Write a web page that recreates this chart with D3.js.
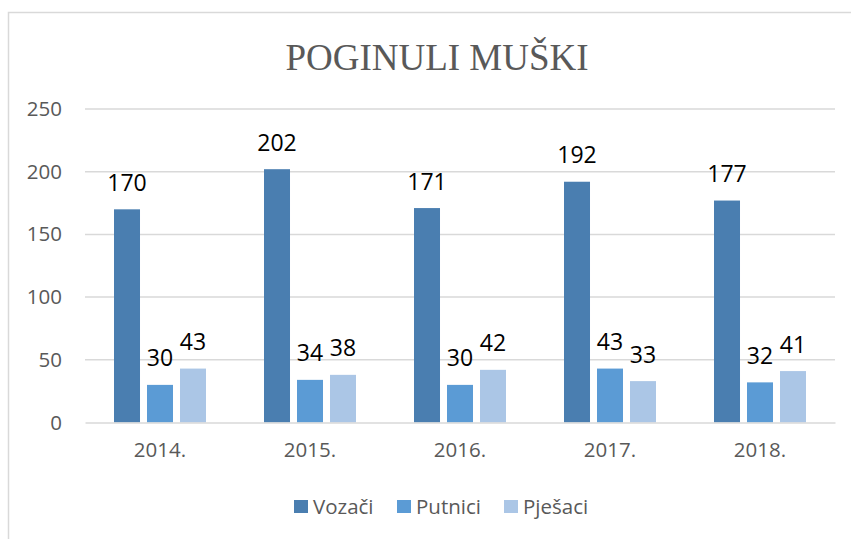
<!DOCTYPE html>
<html>
<head>
<meta charset="utf-8">
<script src="https://cdn.jsdelivr.net/npm/d3@7"></script>
<style>
  body { margin: 0; background: #fff; }
  svg { display: block; }
</style>
</head>
<body>
<svg id="chart" width="851" height="539"></svg>
<script>
// data
const years = ["2014.", "2015.", "2016.", "2017.", "2018."];
const seriesNames = ["Vozači", "Putnici", "Pješaci"];
const vozaci = [170, 202, 171, 192, 177];
const putnici = [30, 34, 30, 43, 32];
const pjesaci = [43, 38, 42, 33, 41];
const yTicks = [0, 50, 100, 150, 200, 250];
const colors = ["#4a7eb0", "#5b9bd5", "#abc6e6"];

const seriesValues = [vozaci, putnici, pjesaci];

const svg = d3.select("#chart");

// outer chart border
svg.append("rect")
    .attr("x", 8.5).attr("y", 12.5)
    .attr("width", 860).attr("height", 560)
    .attr("fill", "none")
    .attr("stroke", "#d9d9d9")
    .attr("stroke-width", 1.5);

// title
svg.append("text")
    .attr("x", 437).attr("y", 70)
    .attr("text-anchor", "middle")
    .attr("font-family", "Liberation Serif, Times New Roman, serif")
    .attr("font-size", 37)
    .attr("fill", "#595959")
    .text("POGINULI MUŠKI");

const x = d3.scaleBand().domain(years).range([85, 835]);
const xs = d3.scaleBand().domain(seriesNames).range([0, 92]).paddingInner(0.212);
const y = d3.scaleLinear().domain([0, 250]).range([422.5, 109]);

// gridlines
svg.append("g")
    .selectAll("line")
    .data(yTicks.filter(d => d > 0))
    .join("line")
    .attr("x1", 85).attr("x2", 835)
    .attr("y1", d => y(d)).attr("y2", d => y(d))
    .attr("stroke", "#d9d9d9")
    .attr("stroke-width", 1.5);

// y axis labels
const yAxis = svg.append("g")
    .attr("transform", "translate(62,0)")
    .call(d3.axisLeft(y).tickValues(yTicks).tickSize(0).tickPadding(0));
yAxis.select(".domain").remove();
yAxis.selectAll("text")
    .attr("font-family", "Open Sans, sans-serif")
    .attr("font-size", 20.5)
    .attr("fill", "#595959");

// bars
const groups = svg.append("g")
    .selectAll("g")
    .data(years)
    .join("g")
    .attr("transform", d => `translate(${x(d) + (x.bandwidth() - 92) / 2},0)`);

groups.selectAll("rect")
    .data((d, i) => seriesNames.map((s, j) => ({ s, j, v: seriesValues[j][i] })))
    .join("rect")
    .attr("x", d => xs(d.s))
    .attr("width", xs.bandwidth())
    .attr("y", d => y(d.v))
    .attr("height", d => y(0) - y(d.v))
    .attr("fill", d => colors[d.j]);

groups.selectAll("text")
    .data((d, i) => seriesNames.map((s, j) => ({ s, j, v: seriesValues[j][i] })))
    .join("text")
    .attr("x", d => xs(d.s) + xs.bandwidth() / 2)
    .attr("y", d => y(d.v) - 18.5)
    .attr("text-anchor", "middle")
    .attr("font-family", "Open Sans, sans-serif")
    .attr("font-size", 23)
    .attr("fill", "#000")
    .text(d => d.v);

// x axis
const xAxis = svg.append("g")
    .attr("transform", `translate(0,${y(0)})`)
    .call(d3.axisBottom(x).tickSize(0).tickPadding(20));
xAxis.select(".domain")
    .attr("stroke", "#d9d9d9")
    .attr("stroke-width", 1.5);
xAxis.selectAll("text")
    .attr("font-family", "Open Sans, sans-serif")
    .attr("font-size", 20.5)
    .attr("fill", "#595959");

// legend
const legendX = [294, 397, 504];
const legend = svg.append("g")
    .selectAll("g")
    .data(seriesNames)
    .join("g")
    .attr("transform", (d, i) => `translate(${legendX[i]},500)`);
legend.append("rect")
    .attr("width", 14).attr("height", 13)
    .attr("fill", (d, i) => colors[i]);
legend.append("text")
    .attr("x", 19).attr("y", 14)
    .attr("font-family", "Open Sans, sans-serif")
    .attr("font-size", 20.5)
    .attr("fill", "#595959")
    .text(d => d);
</script>
</body>
</html>
